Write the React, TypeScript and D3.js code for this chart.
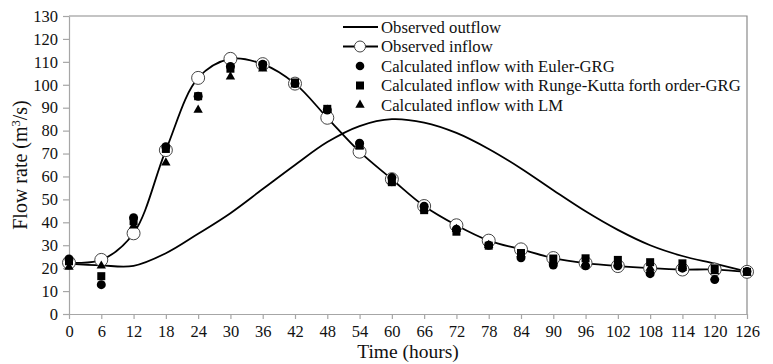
import { useEffect, useRef } from 'react';
import * as d3 from 'd3';

const hours = [0, 6, 12, 18, 24, 30, 36, 42, 48, 54, 60, 66, 72, 78, 84, 90, 96, 102, 108, 114, 120, 126];
const observedOutflow = [22, 21.2, 21, 26.5, 35, 44, 54.5, 65, 75, 82, 85, 83.5, 79, 72, 63.5, 54, 44.8, 36.7, 30, 25.3, 22, 18.5];
const observedInflow = [22.4, 23.6, 35.2, 71.5, 103, 111.3, 109, 100.5, 85.6, 70.8, 58.8, 47.1, 38.7, 32, 28.2, 24.4, 22.2, 20.9, 20, 19.4, 19.4, 18.4];
const eulerGRG = [24, 12.8, 42, 73, 95, 108, 109, 100.5, 89, 74.5, 59.5, 47, 37, 30, 24.5, 21.4, 21, 21, 17.6, 20, 15, 18.5];
const rungeKuttaGRG = [23, 16.5, 40.5, 72, 95, 107, 108.5, 101, 89.5, 73.5, 57.5, 45.3, 35.9, 29.8, 26.6, 24.2, 24.3, 23.6, 22.6, 22.1, 19.9, 18.4];
const levenbergLM = [20.5, 21, 38.5, 66, 89, 103.5, 107, 100, 89, 73, 58, 46, 37, 30, 26, 23, 22, 22, 20, 20, 18.5, 18];
const xTicks = hours;
const yTicks = [0, 10, 20, 30, 40, 50, 60, 70, 80, 90, 100, 110, 120, 130];
const legendLabels = [
  'Observed outflow',
  'Observed inflow',
  'Calculated inflow with Euler-GRG',
  'Calculated inflow with Runge-Kutta forth order-GRG',
  'Calculated inflow with LM',
];

const width = 773;
const height = 364;
const font = "'Liberation Serif', 'DejaVu Serif', 'Times New Roman', Times, serif";

export default function App() {
  const svgRef = useRef<SVGSVGElement>(null);

  useEffect(() => {
    if (!svgRef.current) return;
    const svg = d3.select(svgRef.current);
    svg.selectAll('*').remove();

    const left = 69, right = 747, top = 16, bottom = 314;

    const x = d3.scaleLinear().domain([0, 126]).range([left, right]);
    const y = d3.scaleLinear().domain([0, 130]).range([bottom, top]);

    // frame: top and right
    svg.append('path')
      .attr('d', `M${left},${top}H${right}V${bottom}`)
      .attr('fill', 'none')
      .attr('stroke', '#8a8a8a')
      .attr('stroke-width', 1.2);

    const xAxis = svg.append('g')
      .attr('transform', `translate(0,${bottom})`)
      .call(d3.axisBottom(x).tickValues(xTicks).tickSize(5).tickSizeOuter(0).tickPadding(6));
    xAxis.select('.domain').attr('stroke', '#a6a6a6').attr('stroke-width', 1.2);
    xAxis.selectAll('.tick line').attr('stroke', '#a6a6a6').attr('stroke-width', 1.2);
    xAxis.selectAll('text')
      .attr('fill', '#111')
      .style('font-family', font)
      .style('font-size', '16.5px');

    const yAxis = svg.append('g')
      .attr('transform', `translate(${left},0)`)
      .call(d3.axisLeft(y).tickValues(yTicks).tickSize(6).tickSizeOuter(0).tickPadding(5));
    yAxis.select('.domain').attr('stroke', '#a6a6a6').attr('stroke-width', 1.2);
    yAxis.selectAll('.tick line').attr('stroke', '#a6a6a6').attr('stroke-width', 1.2);
    yAxis.selectAll('text')
      .attr('fill', '#111')
      .style('font-family', font)
      .style('font-size', '16.5px');

    svg.append('text')
      .attr('x', 408)
      .attr('y', 358)
      .attr('text-anchor', 'middle')
      .style('font-family', font)
      .style('font-size', '19.5px')
      .attr('fill', '#111')
      .text('Time (hours)');

    const yTitle = svg.append('text')
      .attr('transform', `translate(27,${(top + bottom) / 2}) rotate(-90)`)
      .attr('text-anchor', 'middle')
      .style('font-family', font)
      .style('font-size', '20px')
      .attr('fill', '#111');
    yTitle.append('tspan').text('Flow rate (m');
    yTitle.append('tspan').style('font-size', '12.5px').attr('dy', -7).text('3');
    yTitle.append('tspan').attr('dy', 7).text('/s)');

    const line = d3.line<number>()
      .x((_, i) => x(hours[i]))
      .y(d => y(d))
      .curve(d3.curveCatmullRom.alpha(0.5));

    svg.append('path')
      .attr('d', line(observedOutflow))
      .attr('fill', 'none')
      .attr('stroke', '#000')
      .attr('stroke-width', 1.8);

    svg.append('path')
      .attr('d', line(observedInflow))
      .attr('fill', 'none')
      .attr('stroke', '#000')
      .attr('stroke-width', 1.8);

    svg.append('g')
      .selectAll('circle')
      .data(observedInflow)
      .join('circle')
      .attr('cx', (_, i) => x(hours[i]))
      .attr('cy', d => y(d))
      .attr('r', 6.5)
      .attr('fill', '#fff')
      .attr('stroke', '#444')
      .attr('stroke-width', 1);

    svg.append('g')
      .selectAll('circle')
      .data(eulerGRG)
      .join('circle')
      .attr('cx', (_, i) => x(hours[i]))
      .attr('cy', d => y(d))
      .attr('r', 4.5)
      .attr('fill', '#000');

    svg.append('g')
      .selectAll('rect')
      .data(rungeKuttaGRG)
      .join('rect')
      .attr('x', (_, i) => x(hours[i]) - 4)
      .attr('y', d => y(d) - 4)
      .attr('width', 8)
      .attr('height', 8)
      .attr('fill', '#000');

    const tri = d3.symbol().type(d3.symbolTriangle).size(38);
    svg.append('g')
      .selectAll('path')
      .data(levenbergLM)
      .join('path')
      .attr('transform', (d, i) => `translate(${x(hours[i])},${y(d)})`)
      .attr('d', tri())
      .attr('fill', '#000');

    // legend
    const lx = 343, lm = 360, lt = 381;
    const rows = [27, 46.5, 66, 85.5, 105];
    const legend = svg.append('g');
    legend.append('line').attr('x1', lx).attr('x2', lx + 35).attr('y1', rows[0]).attr('y2', rows[0])
      .attr('stroke', '#000').attr('stroke-width', 1.8);
    legend.append('line').attr('x1', lx).attr('x2', lx + 35).attr('y1', rows[1]).attr('y2', rows[1])
      .attr('stroke', '#000').attr('stroke-width', 1.8);
    legend.append('circle').attr('cx', lm).attr('cy', rows[1]).attr('r', 5.5)
      .attr('fill', '#fff').attr('stroke', '#444');
    legend.append('circle').attr('cx', lm).attr('cy', rows[2]).attr('r', 4.3).attr('fill', '#000');
    legend.append('rect').attr('x', lm - 4).attr('y', rows[3] - 4).attr('width', 8).attr('height', 8).attr('fill', '#000');
    legend.append('path').attr('transform', `translate(${lm},${rows[4]})`).attr('d', tri()).attr('fill', '#000');

    legend.selectAll('text')
      .data(legendLabels)
      .join('text')
      .attr('x', lt)
      .attr('y', (_, i) => rows[i])
      .attr('dy', '0.33em')
      .style('font-family', font)
      .style('font-size', '16.7px')
      .attr('fill', '#111')
      .text(d => d);
  }, []);

  return (
    <svg
      ref={svgRef}
      width={width}
      height={height}
      style={{ position: 'absolute', left: 0, top: 0, background: '#fff' }}
    />
  );
}
